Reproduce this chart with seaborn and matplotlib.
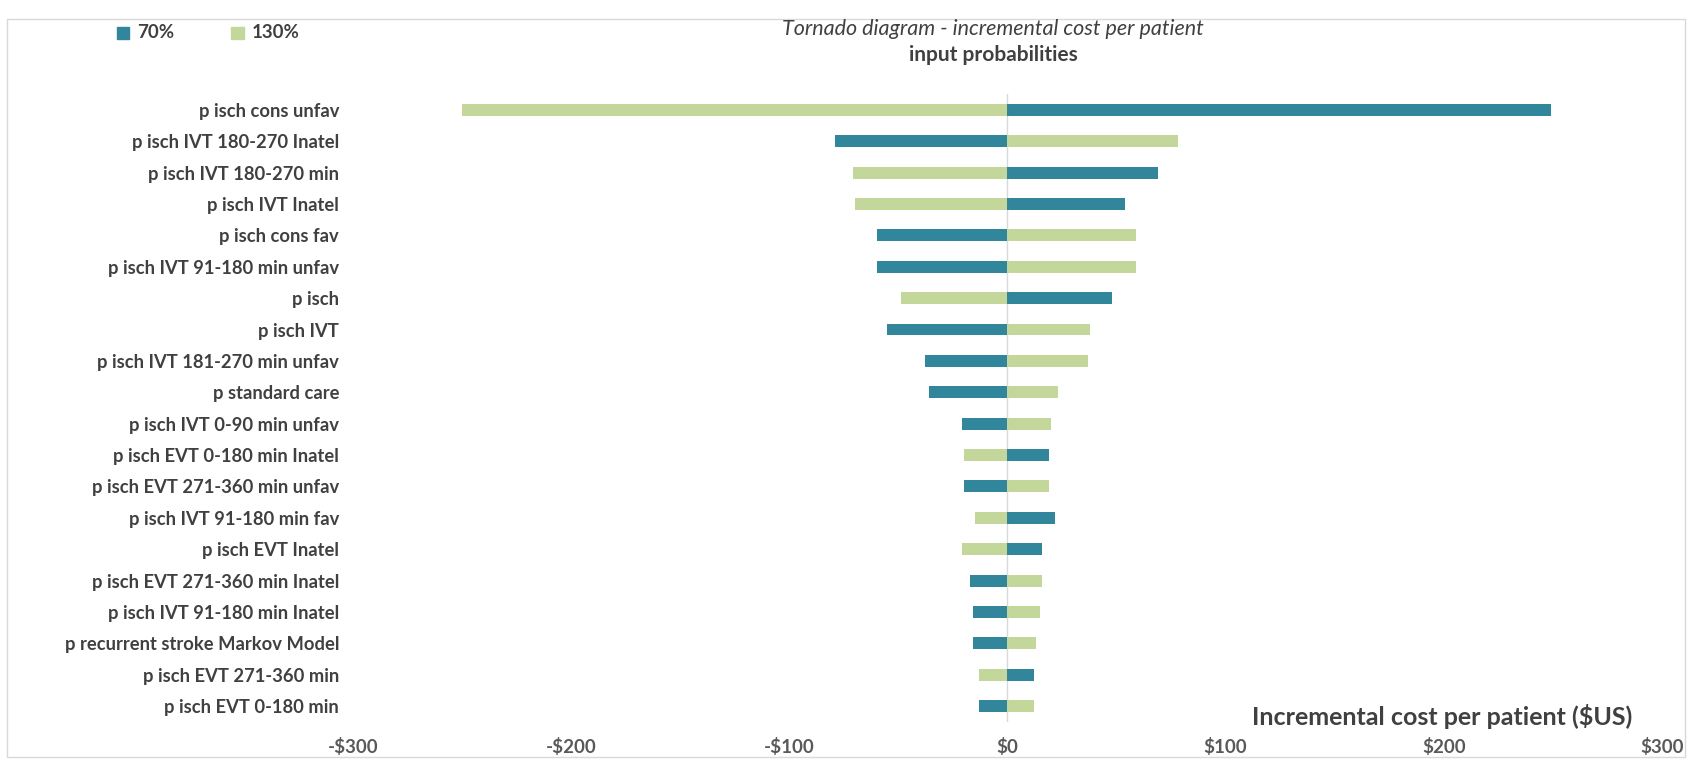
import pandas as pd
import matplotlib.pyplot as plt
import seaborn as sns
from matplotlib.patches import Rectangle

# parametros y resultados del analisis de sensibilidad (costo incremental por paciente, $US)
params = ['p isch cons unfav', 'p isch IVT 180-270 Inatel', 'p isch IVT 180-270 min',
          'p isch IVT Inatel', 'p isch cons fav', 'p isch IVT 91-180 min unfav', 'p isch',
          'p isch IVT', 'p isch IVT 181-270 min unfav', 'p standard care',
          'p isch IVT 0-90 min unfav', 'p isch EVT 0-180 min Inatel',
          'p isch EVT 271-360 min unfav', 'p isch IVT 91-180 min fav', 'p isch EVT Inatel',
          'p isch EVT 271-360 min Inatel', 'p isch IVT 91-180 min Inatel',
          'p recurrent stroke Markov Model', 'p isch EVT 271-360 min', 'p isch EVT 0-180 min']
val_70 = [249, -79, 69, 54, -60, -60, 48, -55, -38, -36,
          -21, 19, -20, 22, 16, -17, -16, -16, 12, -13]
val_130 = [-250, 78, -71, -70, 59, 59, -49, 38, 37, 23,
           20, -20, 19, -15, -21, 16, 15, 13, -13, 12]
xticks = [-300, -200, -100, 0, 100, 200, 300]

df = pd.concat([
    pd.DataFrame({'param': params, 'valor': val_70, 'escenario': '70%'}),
    pd.DataFrame({'param': params, 'valor': val_130, 'escenario': '130%'}),
], ignore_index=True)

sns.set_style('white')
plt.rcParams['font.family'] = ['Lato', 'DejaVu Sans']

colores = {'70%': '#31869B', '130%': '#C4D79B'}
txt = '#404040'

fig = plt.figure(figsize=(16.92, 7.59), dpi=100)
ax = fig.add_axes([0.2086, 0.049, 0.7736, 0.827])

sns.barplot(data=df, x='valor', y='param', hue='escenario', palette=colores,
            dodge=False, orient='h', width=0.38, ax=ax, legend=False,
            saturation=1, linewidth=0)

ax.set_xlim(-300, 300)
ax.set_xticks(xticks)
ax.set_xticklabels([f'-${abs(v)}' if v < 0 else f'${v}' for v in xticks],
                   fontsize=13.5, fontweight='bold', color='#595959')
ax.tick_params(axis='x', length=0, pad=12)
ax.tick_params(axis='y', length=0, pad=10)
for lab in ax.get_yticklabels():
    lab.set_fontsize(13.2)
    lab.set_fontweight('bold')
    lab.set_color(txt)
ax.set_ylabel('')
ax.set_xlabel('')
for s in ax.spines.values():
    s.set_visible(False)
ax.axvline(0, color='#D9D9D9', lw=1, zorder=0)

ax.text(0.977, -0.012, 'Incremental cost per patient ($US)', transform=ax.transAxes,
        ha='right', va='bottom', fontsize=18, fontweight='bold', color=txt)

# titulos
fig.text(0.587, 0.962, 'Tornado diagram - incremental cost per patient', ha='center',
         va='center', fontsize=15.5, style='italic', color=txt)
fig.text(0.587, 0.928, 'input probabilities', ha='center', va='center',
         fontsize=15, fontweight='bold', color=txt)

# leyenda manual
for xpos, lab in [(0.069, '70%'), (0.1365, '130%')]:
    fig.patches.append(Rectangle((xpos, 0.948), 0.0075, 0.017, transform=fig.transFigure,
                                 color=colores[lab]))
    fig.text(xpos + 0.012, 0.957, lab, ha='left', va='center', fontsize=13.5,
             fontweight='bold', color=txt)

# marco
fig.patches.append(Rectangle((0.004, 0.003), 0.992, 0.972, transform=fig.transFigure,
                             fill=False, edgecolor='#D9D9D9', lw=1))

plt.savefig('out.png', dpi=100)
